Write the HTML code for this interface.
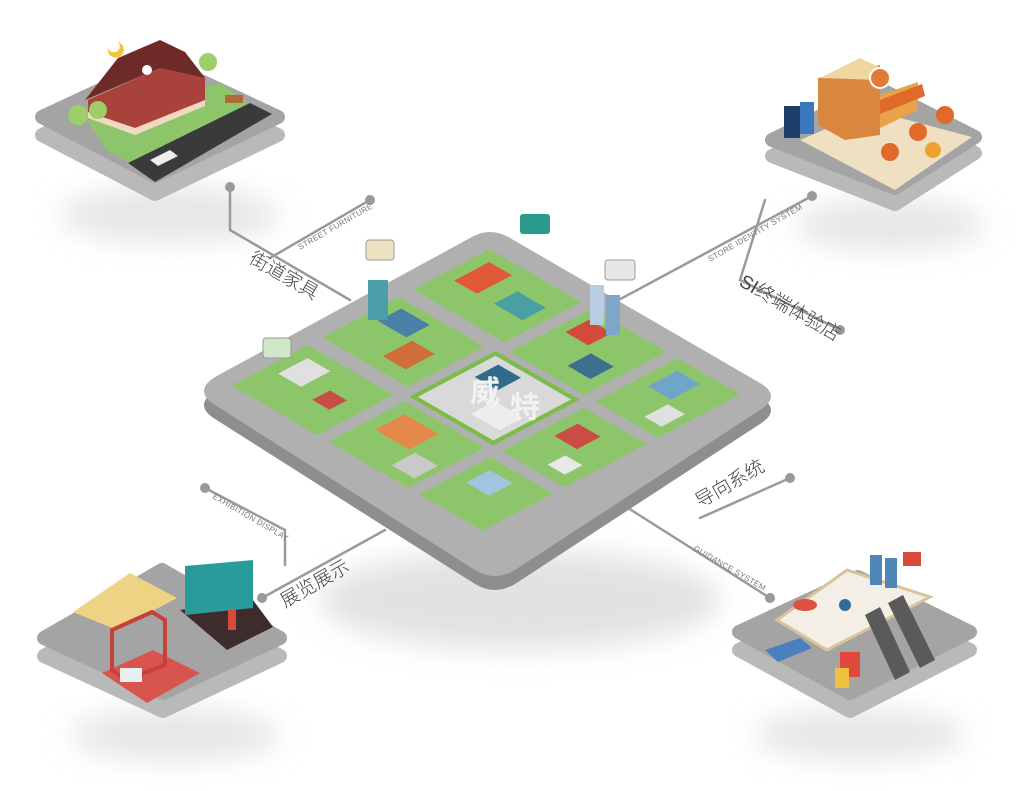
<!DOCTYPE html>
<html><head><meta charset="utf-8">
<style>
html,body{margin:0;padding:0;background:#fff;}
svg{display:block;}
text{font-family:"Liberation Sans","Noto Sans CJK SC",sans-serif;fill:#555;}
.cn{font-size:19px;fill:#444;font-weight:300;}
.en{font-size:8px;fill:#777;letter-spacing:0.3px;}
.pt{stroke-linejoin:round;stroke-width:14;}
</style></head><body>
<svg width="1024" height="791" viewBox="0 0 1024 791" xmlns="http://www.w3.org/2000/svg">
<defs>
<filter id="sh" x="-30%" y="-30%" width="160%" height="180%"><feGaussianBlur stdDeviation="14"/></filter>
</defs>

<!-- shadows -->
<ellipse cx="520" cy="600" rx="200" ry="50" fill="#e2e2e2" filter="url(#sh)"/>
<ellipse cx="170" cy="215" rx="110" ry="28" fill="#e6e6e6" filter="url(#sh)"/>
<ellipse cx="890" cy="225" rx="95" ry="26" fill="#e6e6e6" filter="url(#sh)"/>
<ellipse cx="175" cy="735" rx="105" ry="26" fill="#e6e6e6" filter="url(#sh)"/>
<ellipse cx="860" cy="735" rx="105" ry="26" fill="#e6e6e6" filter="url(#sh)"/>

<!-- connectors -->
<g stroke="#9a9a9a" stroke-width="2.5" fill="none" stroke-linecap="round">
<polyline points="230,187 230,230 350,300"/>
<polyline points="370,200 270,258"/>
<polyline points="812,196 600,310"/>
<polyline points="840,330 740,280 765,200"/>
<polyline points="790,478 700,518"/>
<polyline points="628,508 770,598"/>
<polyline points="205,488 285,530 285,565"/>
<polyline points="262,598 385,530"/>
</g>
<g fill="#999">
<circle cx="230" cy="187" r="5"/><circle cx="370" cy="200" r="5"/>
<circle cx="812" cy="196" r="5"/><circle cx="840" cy="330" r="5"/>
<circle cx="790" cy="478" r="5"/><circle cx="770" cy="598" r="5"/>
<circle cx="205" cy="488" r="5"/><circle cx="262" cy="598" r="5"/>
</g>

<!-- labels -->
<text class="en" transform="translate(300,250) rotate(-30)">STREET FURNITURE</text>
<text class="cn" transform="translate(248,262) rotate(30)">街道家具</text>
<text class="en" transform="translate(710,262) rotate(-30)">STORE IDENTITY SYSTEM</text>
<text class="cn" transform="translate(738,285) rotate(30)">SI终端体验店</text>
<text class="cn" transform="translate(700,508) rotate(-30)">导向系统</text>
<text class="en" transform="translate(693,550) rotate(30)">GUIDANCE SYSTEM</text>
<text class="en" transform="translate(212,498) rotate(30)">EXHIBITION DISPLAY</text>
<text class="cn" transform="translate(285,608) rotate(-30)">展览展示</text>

<!-- central platform -->
<path d="M470,238 Q490,226 510,238 L760,383 Q782,396 760,410 L515,570 Q495,582 475,570 L215,405 Q193,391 215,377 Z" fill="#8e8e8e" transform="translate(0,14)"/>
<path d="M470,238 Q490,226 510,238 L760,383 Q782,396 760,410 L515,570 Q495,582 475,570 L215,405 Q193,391 215,377 Z" fill="#b0b0b0"/>
<g transform="matrix(2.85,1.65,-2.93,1.55,490,230)">
  <rect x="6" y="6" width="32" height="26" fill="#8dc66a"/>
  <rect x="6" y="37" width="30" height="26" fill="#8dc66a"/>
  <rect x="6" y="68" width="30" height="26" fill="#8dc66a"/>
  <rect x="42" y="6" width="26" height="28" fill="#8dc66a"/>
  <rect x="72" y="6" width="22" height="28" fill="#8dc66a"/>
  <rect x="72" y="38" width="22" height="28" fill="#8dc66a"/>
  <rect x="40" y="68" width="28" height="26" fill="#8dc66a"/>
  <rect x="72" y="70" width="22" height="24" fill="#8dc66a"/>
  <rect x="40" y="37" width="28" height="28" fill="#d9d9d9" stroke="#7cbc4a" stroke-width="1.5"/>
  <rect x="10" y="40" width="10" height="8" fill="#4a7fa8"/>
  <rect x="22" y="48" width="8" height="10" fill="#cf6e3b"/>
  <rect x="10" y="10" width="8" height="12" fill="#e05a3a"/>
  <rect x="24" y="14" width="10" height="8" fill="#4aa0a0"/>
  <rect x="45" y="10" width="8" height="8" fill="#d24a3a"/>
  <rect x="56" y="20" width="8" height="8" fill="#3d6f8f"/>
  <rect x="76" y="10" width="8" height="10" fill="#6fa5c8"/>
  <rect x="85" y="22" width="6" height="8" fill="#e0e0e0"/>
  <rect x="76" y="44" width="8" height="8" fill="#c94d45"/>
  <rect x="84" y="56" width="6" height="6" fill="#e8e8e8"/>
  <rect x="44" y="72" width="12" height="10" fill="#e5894a"/>
  <rect x="58" y="82" width="8" height="8" fill="#c9c9c9"/>
  <rect x="76" y="74" width="8" height="8" fill="#9fc5df"/>
  <rect x="10" y="72" width="8" height="10" fill="#e0e0e0"/>
  <rect x="24" y="78" width="6" height="6" fill="#c94d45"/>
  <rect x="44" y="40" width="8" height="8" fill="#2f6c8a"/>
  <rect x="55" y="52" width="10" height="8" fill="#eeeeee"/>
</g>
<text x="470" y="402" font-size="30" font-weight="bold" style="fill:#f2f2f2">威</text>
<text x="510" y="418" font-size="30" font-weight="bold" style="fill:#f2f2f2">特</text>
<rect x="520" y="214" width="30" height="20" rx="3" fill="#2b9a8b"/>
<rect x="366" y="240" width="28" height="20" rx="3" fill="#eee3c0" stroke="#999"/>
<rect x="605" y="260" width="30" height="20" rx="3" fill="#e6e6e6" stroke="#999"/>
<rect x="263" y="338" width="28" height="20" rx="3" fill="#cfe8c8" stroke="#999"/>
<rect x="368" y="280" width="20" height="40" fill="#4a9fa8"/>
<rect x="590" y="285" width="14" height="40" fill="#b9cde0"/>
<rect x="606" y="295" width="14" height="40" fill="#7fa6c8"/>

<!-- TL platform -->
<g>
<polygon class="pt" points="160,62 278,117 155,176 42,117" fill="#b9b9b9" stroke="#b9b9b9" transform="translate(0,18)"/>
<polygon class="pt" points="160,62 278,117 155,176 42,117" fill="#a4a4a4" stroke="#a4a4a4"/>
<polygon points="87,120 220,83 253,107 130,163 107,150" fill="#8dc66a"/>
<polygon points="128,163 250,103 272,114 155,182" fill="#3a3a3a"/>
<polygon points="150,160 170,150 178,156 158,166" fill="#eee"/>
<polygon points="88,100 160,68 205,78 205,105 135,133 88,115" fill="#a8423a"/>
<polygon points="85,100 118,58 160,40 185,52 205,78 160,68" fill="#6e2a26"/>
<polygon points="88,112 135,128 205,100 205,106 135,135 88,118" fill="#f0d9c0"/>
<circle cx="78" cy="115" r="10" fill="#9ccf6a"/><circle cx="98" cy="110" r="9" fill="#9ccf6a"/>
<circle cx="208" cy="62" r="9" fill="#9ccf6a"/>
<circle cx="147" cy="70" r="5" fill="#fff"/>
<path d="M108,48 a8,8 0 1,0 10,-6 a6,6 0 1,1 -10,6" fill="#f2c83a"/>
<rect x="225" y="95" width="18" height="8" fill="#b06a3a"/>
</g>

<!-- TR platform -->
<g>
<polygon class="pt" points="878,88 975,137 895,188 772,140" fill="#b9b9b9" stroke="#b9b9b9" transform="translate(0,16)"/>
<polygon class="pt" points="878,88 975,137 895,188 772,140" fill="#a4a4a4" stroke="#a4a4a4"/>
<polygon points="800,140 870,110 972,137 895,190" fill="#eee0c0"/>
<polygon points="818,78 880,65 880,135 845,140 818,125" fill="#d9873e"/>
<polygon points="820,78 860,58 885,70 880,80" fill="#f0d7a0"/>
<polygon points="880,95 918,82 918,110 880,128" fill="#e8a24a"/>
<polygon points="880,100 922,84 925,96 880,114" fill="#e06a2a"/>
<circle cx="880" cy="78" r="10" fill="#e27a3a" stroke="#fff" stroke-width="2"/>
<rect x="784" y="106" width="16" height="32" fill="#1f3f6a"/>
<rect x="800" y="102" width="14" height="32" fill="#3a78c0"/>
<circle cx="945" cy="115" r="9" fill="#e06a2a"/><circle cx="918" cy="132" r="9" fill="#e06a2a"/>
<circle cx="890" cy="152" r="9" fill="#e06a2a"/><circle cx="933" cy="150" r="8" fill="#f0a030"/>
</g>

<!-- BL platform -->
<g>
<polygon class="pt" points="162,570 280,638 163,693 44,638" fill="#b9b9b9" stroke="#b9b9b9" transform="translate(0,18)"/>
<polygon class="pt" points="162,570 280,638 163,693 44,638" fill="#a4a4a4" stroke="#a4a4a4"/>
<polygon points="73,612 130,573 177,598 117,630" fill="#efd384"/>
<polygon points="180,610 253,600 273,627 227,650" fill="#3e2c2c"/>
<polygon points="102,673 153,650 200,673 147,703" fill="#d8554e"/>
<polygon points="112,630 152,612 165,620 165,665 125,680 112,670" fill="none" stroke="#c8403a" stroke-width="4"/>
<polygon points="185,566 253,560 253,608 185,615" fill="#2a9b9b"/>
<rect x="120" y="668" width="22" height="14" fill="#e8f0f0"/>
<rect x="228" y="610" width="8" height="20" fill="#d84a3a"/>
</g>

<!-- BR platform -->
<g>
<polygon class="pt" points="858,577 970,632 850,693 739,632" fill="#b9b9b9" stroke="#b9b9b9" transform="translate(0,18)"/>
<polygon class="pt" points="858,577 970,632 850,693 739,632" fill="#a4a4a4" stroke="#a4a4a4"/>
<polygon points="777,620 847,570 930,597 827,650" fill="#f4efe6" stroke="#d8c49a" stroke-width="3"/>
<polygon points="865,615 880,607 910,672 895,680" fill="#5a5a5a"/>
<polygon points="888,603 903,595 935,660 920,668" fill="#5a5a5a"/>
<polygon points="765,650 800,638 812,648 778,662" fill="#4a7fc0"/>
<rect x="840" y="652" width="20" height="25" fill="#e04a3a"/>
<rect x="835" y="668" width="14" height="20" fill="#f0c040"/>
<rect x="870" y="555" width="12" height="30" fill="#4f86b8"/>
<rect x="885" y="558" width="12" height="30" fill="#4f86b8"/>
<rect x="903" y="552" width="18" height="14" fill="#d84a3a"/>
<ellipse cx="805" cy="605" rx="12" ry="6" fill="#e05040"/>
<circle cx="845" cy="605" r="6" fill="#2f6c9a"/>
</g>
</svg>
</body></html>
